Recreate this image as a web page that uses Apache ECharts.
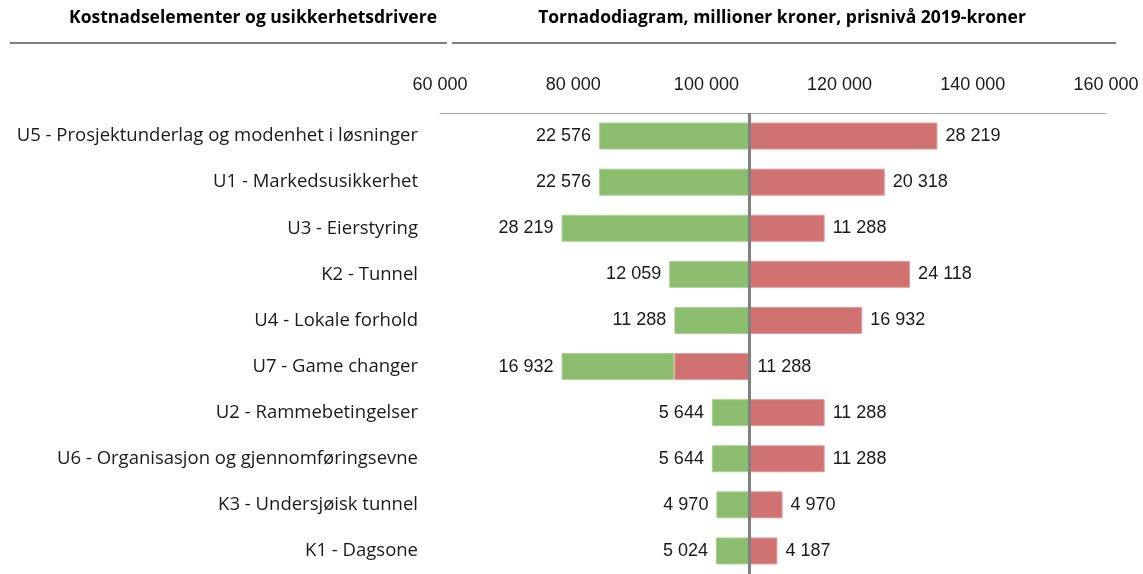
<!DOCTYPE html>
<html>
<head>
<meta charset="utf-8">
<script src="https://cdn.jsdelivr.net/npm/echarts@6/dist/echarts.min.js"></script>
<style>
html,body{margin:0;padding:0;background:#fff;}
#chart{width:1143px;height:574px;}
</style>
</head>
<body>
<div id="chart"></div>
<script>
const categories = [
  "U5 - Prosjektunderlag og modenhet i løsninger",
  "U1 - Markedsusikkerhet",
  "U3 - Eierstyring",
  "K2 - Tunnel",
  "U4 - Lokale forhold",
  "U7 - Game changer",
  "U2 - Rammebetingelser",
  "U6 - Organisasjon og gjennomføringsevne",
  "K3 - Undersjøisk tunnel",
  "K1 - Dagsone"
];
// downside (green) spans and upside (red) spans, in millioner kroner
const lowValues  = [22576, 22576, 28219, 12059, 11288, 16932, 5644, 5644, 4970, 5024];
const highValues = [28219, 20318, 11288, 24118, 16932, -11288, 11288, 11288, 4970, 4187];
const baseValue = 106470;
const axisMin = 60000, axisMax = 160000, axisStep = 20000;

function fmt(v){ return String(Math.round(Math.abs(v))).replace(/\B(?=(\d{3})+(?!\d))/g, ' '); }

const startValues = lowValues.map((l, i) => baseValue - l + Math.min(0, highValues[i]));
const greenValues = lowValues.slice();
const redValues = highValues.map(v => Math.abs(v));

const chart = echarts.init(document.getElementById('chart'));
const catFont = '"Open Sans", Lato, sans-serif';
const numFont = '"Liberation Sans", Arial, sans-serif';

chart.setOption({
  animation: false,
  backgroundColor: '#ffffff',
  grid: { left: 440, right: 37, top: 113, height: 467, containLabel: false },
  xAxis: {
    type: 'value', position: 'top', min: axisMin, max: axisMax, interval: axisStep,
    axisLine: { show: true, lineStyle: { color: '#A6A6A6', width: 1 } },
    axisTick: { show: false },
    splitLine: { show: false },
    axisLabel: {
      margin: 19, color: '#1a1a1a', fontSize: 18, fontFamily: numFont,
      formatter: v => fmt(v)
    }
  },
  yAxis: {
    type: 'category', data: categories, inverse: true,
    axisLine: { show: false }, axisTick: { show: false },
    axisLabel: { margin: 22, color: '#1a1a1a', fontSize: 18.5, fontFamily: catFont }
  },
  graphic: [
    { type: 'text', x: 253, y: 9, style: { text: 'Kostnadselementer og usikkerhetsdrivere', align: 'center', fontSize: 17.5, fontWeight: 'bold', fontFamily: catFont, fill: '#000' } },
    { type: 'text', x: 782, y: 9, style: { text: 'Tornadodiagram, millioner kroner, prisnivå 2019-kroner', align: 'center', fontSize: 17.5, fontWeight: 'bold', fontFamily: catFont, fill: '#000' } },
    { type: 'line', shape: { x1: 10, y1: 43, x2: 447, y2: 43 }, style: { stroke: '#000', lineWidth: 1 } },
    { type: 'line', shape: { x1: 452, y1: 43, x2: 1116, y2: 43 }, style: { stroke: '#000', lineWidth: 1 } }
  ],
  series: [
    {
      name: 'start', type: 'bar', stack: 't', barWidth: 27, data: startValues,
      itemStyle: { color: 'rgba(0,0,0,0)' }, silent: true, label: { show: false }
    },
    {
      name: 'Lav', type: 'bar', stack: 't', barWidth: 27, data: greenValues,
      itemStyle: { color: '#8CBD6E', borderColor: '#A9D38F', borderWidth: 1 },
      label: { show: true, position: 'left', distance: 8, color: '#1a1a1a', fontSize: 18, fontFamily: numFont, formatter: p => fmt(lowValues[p.dataIndex]) },
      markLine: {
        silent: true, symbol: 'none', label: { show: false },
        lineStyle: { color: '#808080', width: 3, type: 'solid' },
        data: [{ xAxis: baseValue }]
      }
    },
    {
      name: 'Høy', type: 'bar', stack: 't', barWidth: 27, data: redValues,
      itemStyle: { color: '#D07272', borderColor: '#E39A9A', borderWidth: 1 },
      label: { show: true, position: 'right', distance: 8, color: '#1a1a1a', fontSize: 18, fontFamily: numFont, formatter: p => fmt(highValues[p.dataIndex]) }
    }
  ]
});
</script>
</body>
</html>
